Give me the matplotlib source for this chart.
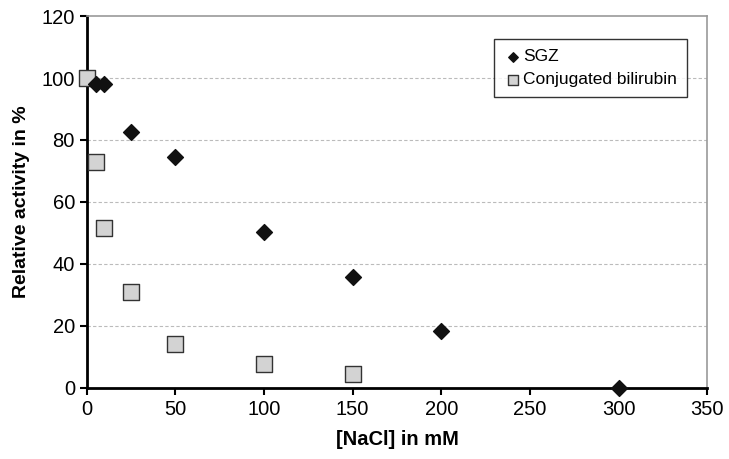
import matplotlib
matplotlib.use("Agg")
import matplotlib.pyplot as plt

plt.rcParams['font.family'] = ['Liberation Sans', 'DejaVu Sans']

# data
sgz_x = [5, 10, 25, 50, 100, 150, 200, 300]
sgz_y = [98, 98, 82.5, 74.5, 50.3, 35.7, 18.3, 0]
bili_x = [0, 5, 10, 25, 50, 100, 150]
bili_y = [100, 73, 51.5, 30.8, 14.2, 7.8, 4.5]

fig = plt.figure(figsize=(7.29, 4.59), dpi=100)
ax = fig.add_axes([0.119, 0.155, 0.851, 0.81])

ax.scatter(bili_x, bili_y, marker='s', s=120, c='#d3d3d3', edgecolors='#333333',
           linewidths=1.0, label='Conjugated bilirubin', zorder=3, clip_on=False)
ax.scatter(sgz_x, sgz_y, marker='D', s=65, c='#111111', edgecolors='#111111',
           label='SGZ', zorder=4, clip_on=False)

ax.set_xlim(0, 350)
ax.set_ylim(0, 120)
ax.set_xticks(range(0, 351, 50))
ax.set_yticks(range(0, 121, 20))

for y in [20, 40, 60, 80, 100]:
    ax.axhline(y, color='#bbbbbb', lw=0.8, ls=(0, (3, 2)), zorder=1)

ax.spines['left'].set_linewidth(2)
ax.spines['bottom'].set_linewidth(2)
ax.spines['top'].set_color('#999999')
ax.spines['right'].set_color('#999999')
ax.spines['top'].set_linewidth(1.2)
ax.spines['right'].set_linewidth(1.2)
ax.tick_params(direction='out', length=5, width=1.5, labelsize=14.5)

ax.set_xlabel('[NaCl] in mM', fontsize=14.5, fontweight='bold', labelpad=8)
ax.set_ylabel('Relative activity in %', fontsize=14, fontweight='bold', labelpad=8)

h, l = ax.get_legend_handles_labels()
leg = ax.legend(h[::-1], l[::-1], loc='upper right', bbox_to_anchor=(0.967, 0.937),
                fontsize=12.5, frameon=True, fancybox=False, edgecolor='black',
                handletextpad=0.05, markerscale=0.6, borderpad=0.55, labelspacing=0.45,
                handlelength=1.1, borderaxespad=0)
leg.get_frame().set_linewidth(1.0)

fig.savefig('out.png', dpi=100)
